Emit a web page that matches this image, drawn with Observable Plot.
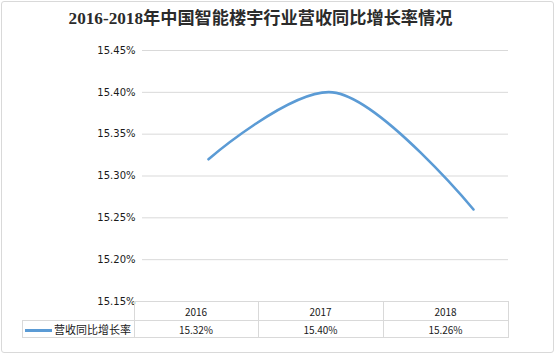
<!DOCTYPE html>
<html>
<head>
<meta charset="utf-8">
<script src="https://cdn.jsdelivr.net/npm/d3@7"></script>
<script src="https://cdn.jsdelivr.net/npm/@observablehq/plot@0.6"></script>
<style>
  html, body { margin: 0; padding: 0; background: #fff; }
  #wrap { position: relative; width: 555px; height: 355px; overflow: hidden; }
  #frame { position: absolute; left: 1px; top: 1px; width: 551px; height: 350px;
           border: 1px solid #d9d9d9; border-radius: 3px; box-sizing: content-box; }
  #title { position: absolute; left: -17px; top: 8px; width: 555px; text-align: center;
           font-family: "Liberation Serif", "Noto Sans CJK SC", serif; font-weight: bold;
           font-size: 17.2px; color: #2b2b2b; line-height: 22px; white-space: nowrap; }
  #chart { position: absolute; left: 0; top: 0; }
  #tbl { position: absolute; left: 22px; top: 301px; border-collapse: collapse;
         font-family: "Noto Sans CJK SC", "DejaVu Sans", sans-serif; font-size: 10px; color: #1a1a1a; }
  #tbl td { border: 1px solid #d9d9d9; padding: 0; text-align: center; white-space: nowrap; }
  #tbl td.blank { border: none; }
  #tbl tr.r1 td { height: 18px; }
  #tbl tr.r2 td { height: 16px; }
  .leg { text-align: left !important; font-size: 11px; }
  .swatch { display: inline-block; width: 27px; height: 3px; background: #5b9bd5; vertical-align: middle; margin: 0 2px 0 2px; position: relative; top: -1px; }
</style>
</head>
<body>
<div id="wrap">
  <div id="frame"></div>
  <div id="chart"></div>
  <div id="title"></div>
  <table id="tbl"></table>
</div>
<script>
const title = "2016-2018年中国智能楼宇行业营收同比增长率情况";
const seriesName = "营收同比增长率";
const years = [2016, 2017, 2018];
const rates = [15.32, 15.40, 15.26];
const yTicks = [15.15, 15.20, 15.25, 15.30, 15.35, 15.40, 15.45];

const fmt = d => d.toFixed(2) + "%";
const data = years.map((y, i) => ({year: y, rate: rates[i]}));

document.getElementById("title").textContent = title;

const chart = Plot.plot({
  width: 555,
  height: 355,
  marginLeft: 142,
  marginRight: 47,
  marginTop: 50,
  marginBottom: 54,
  style: {fontFamily: "'DejaVu Sans', sans-serif", fontSize: "10px", color: "#1a1a1a", background: "transparent"},
  x: {type: "linear", domain: years, range: [208, 332, 473], axis: null},
  y: {domain: [15.15, 15.45]},
  marks: [
    Plot.gridY(yTicks, {stroke: "#d9d9d9", strokeOpacity: 1, strokeWidth: 1}),
    Plot.axisY(yTicks, {tickSize: 0, tickPadding: 7, tickFormat: fmt, label: null, fontSize: 10}),
    Plot.line(data, {x: "year", y: "rate", curve: "catmull-rom", stroke: "#5b9bd5", strokeWidth: 2.6})
  ]
});
document.getElementById("chart").appendChild(chart);

const tbl = d3.select("#tbl");
const r1 = tbl.append("tr").attr("class", "r1");
r1.append("td").attr("class", "blank").style("width", "111px");
r1.selectAll("td.yr").data(years).enter().append("td").attr("class", "yr")
  .style("width", (d, i) => (i === 0 ? 123 : 124) + "px").text(d => d);
const r2 = tbl.append("tr").attr("class", "r2");
const leg = r2.append("td").attr("class", "leg");
leg.append("span").attr("class", "swatch");
leg.append("span").text(seriesName);
r2.selectAll("td.val").data(rates).enter().append("td").attr("class", "val").text(fmt);
</script>
</body>
</html>
